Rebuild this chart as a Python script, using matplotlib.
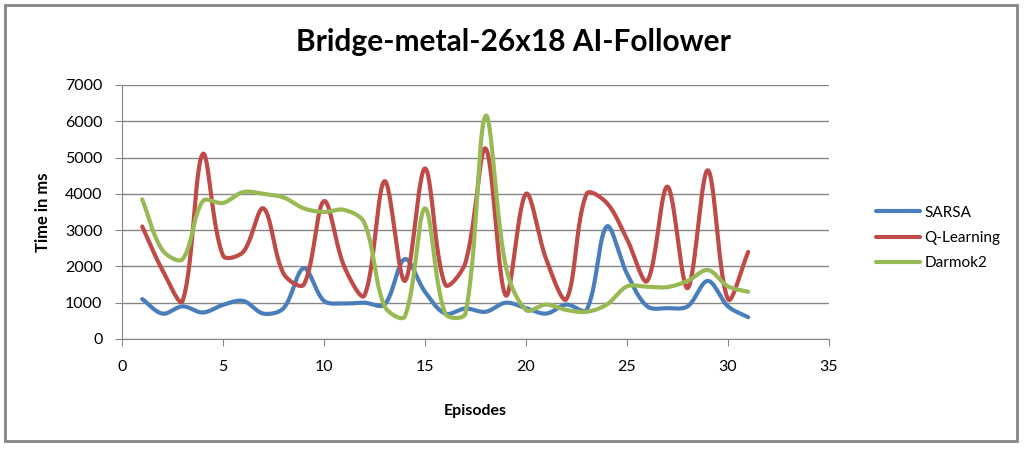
import matplotlib.pyplot as plt
import numpy as np
from matplotlib.patches import Rectangle

plt.rcParams['font.family'] = ['Lato', 'DejaVu Sans']

episodes = np.arange(1, 32)

# values (ms)
sarsa = [1100, 700, 900, 730, 940, 1050, 700, 850, 1950, 1050,
         980, 1000, 950, 2200, 1300, 700, 840, 750, 1000, 850,
         700, 950, 800, 3100, 1800, 900, 850, 900, 1600, 900, 600]
qlearn = [3100, 1900, 1050, 5100, 2300, 2400, 3600, 1800, 1500, 3800,
          2000, 1200, 4350, 1600, 4700, 1500, 2100, 5250, 1200, 4000,
          2200, 1100, 4000, 3750, 2750, 1600, 4200, 1400, 4650, 1100, 2400]
darmok = [3850, 2450, 2200, 3800, 3750, 4050, 4000, 3900, 3600, 3500,
          3560, 3200, 900, 620, 3600, 700, 700, 6150, 2000, 800,
          950, 800, 750, 950, 1450, 1440, 1430, 1600, 1900, 1450, 1300]

series = [("SARSA", sarsa, "#4A7EBB"),
          ("Q-Learning", qlearn, "#BE4B48"),
          ("Darmok2", darmok, "#98B954")]


def smooth(x, y, n=30, sx=20.2, sy=0.03624):
    # Excel style smoothed line: bezier through each point, tangents scaled
    # by neighbouring segment lengths (measured in screen pixels)
    p = np.column_stack([np.asarray(x, float) * sx, np.asarray(y, float) * sy])
    p = np.vstack([p[0], p, p[-1]])
    d = np.r_[np.hypot(*np.diff(p, axis=0).T), 0]
    t = np.linspace(0, 1, n)[:, None]
    out = []
    for i in range(1, len(p) - 2):
        p0, p3 = p[i], p[i + 1]
        d0, d1, d2 = d[i - 1], d[i], d[i + 1]
        k1 = 2 * d1 / (d0 + d1) if d0 + d1 > 0 else 0
        k2 = 2 * d1 / (d1 + d2) if d1 + d2 > 0 else 0
        c1 = p0 + (p[i + 1] - p[i - 1]) / 6 * k1
        c2 = p3 - (p[i + 2] - p[i]) / 6 * k2
        b = (1 - t) ** 3 * p0 + 3 * (1 - t) ** 2 * t * c1 + 3 * (1 - t) * t ** 2 * c2 + t ** 3 * p3
        out.append(b)
    out = np.vstack(out)
    return out[:, 0] / sx, out[:, 1] / sy


fig = plt.figure(figsize=(10.24, 4.49), dpi=100)
ax = fig.add_axes([122 / 1024, 1 - 339 / 449, (829 - 122) / 1024, (339 - 85) / 449])

for name, vals, col in series:
    sx, sy = smooth(episodes, vals)
    ax.plot(sx, sy, color=col, lw=3, label=name, solid_capstyle='round')

ax.set_xlim(0, 35)
ax.set_ylim(0, 7000)
ax.set_xticks(np.arange(0, 36, 5))
ax.set_yticks(np.arange(0, 7001, 1000))
ax.yaxis.grid(True, color='#868686', lw=1)
ax.set_axisbelow(True)
for s in ['top', 'right']:
    ax.spines[s].set_visible(False)
for s in ['left', 'bottom']:
    ax.spines[s].set_color('#868686')
ax.tick_params(colors='#868686', labelcolor='black', labelsize=11.5, length=5)
ax.tick_params(axis='x', pad=10)
ax.tick_params(axis='y', pad=9)

ax.set_xlabel("Episodes", fontsize=11.5, fontweight='bold', labelpad=22)
ax.set_ylabel("Time in ms", fontsize=12, fontweight='bold', labelpad=10)
fig.text(513 / 1024, 1 - 42 / 449, "Bridge-metal-26x18 AI-Follower",
         ha='center', va='center', fontsize=21.5, fontweight='bold')

ax.legend(loc='center left', bbox_to_anchor=(862 / 1024, 1 - 238 / 449),
          bbox_transform=fig.transFigure, frameon=False, fontsize=11,
          handlelength=2.9, labelspacing=0.75, handletextpad=0.3)

fig.patches.append(Rectangle((5 / 1024, 8 / 449), 1012 / 1024, 436 / 449,
                             transform=fig.transFigure, fill=False,
                             ec='#868686', lw=2))

fig.savefig("out.png", dpi=100)
